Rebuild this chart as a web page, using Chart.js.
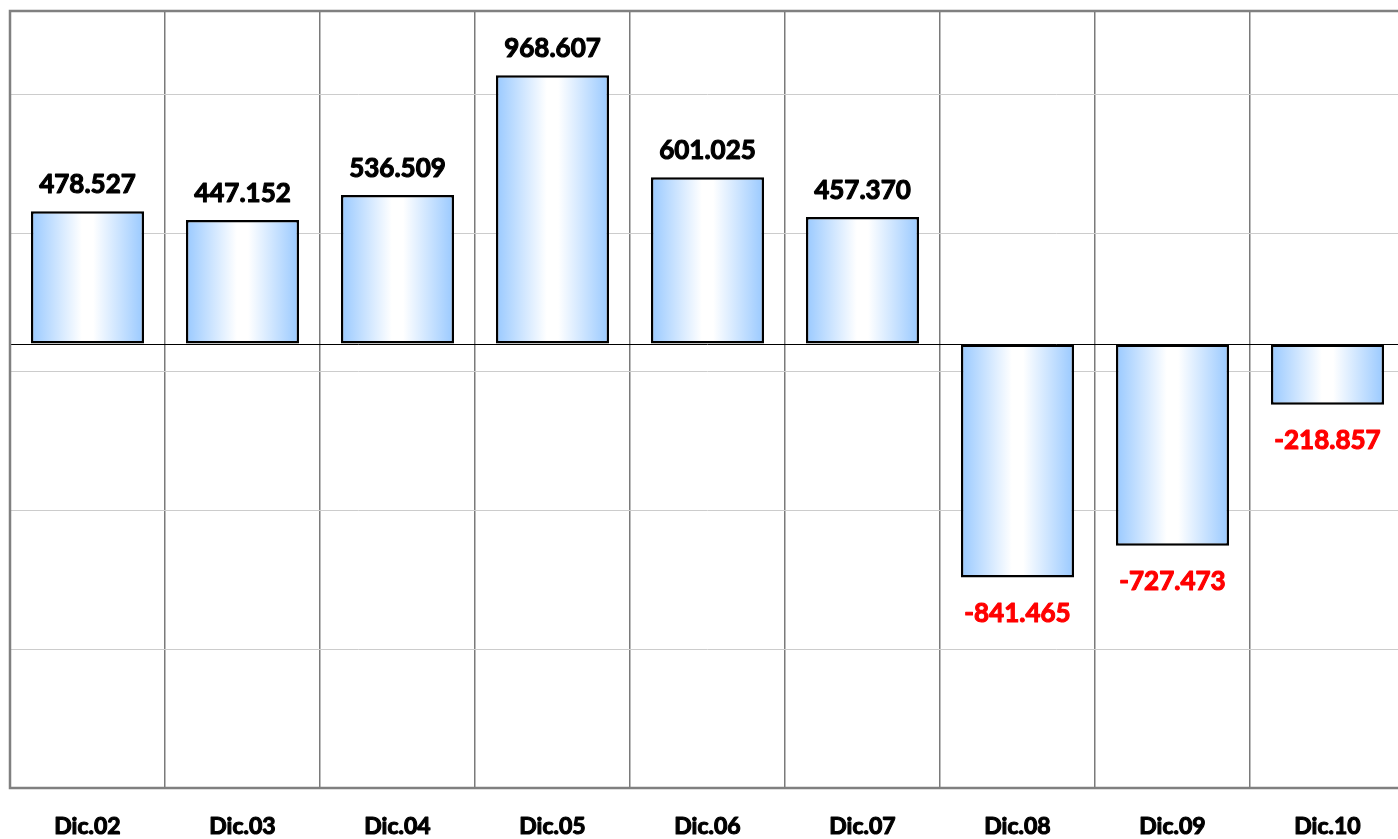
<!DOCTYPE html>
<html>
<head>
<meta charset="utf-8">
<script src="https://cdn.jsdelivr.net/npm/chart.js@4.4.1/dist/chart.umd.min.js"></script>
<style>
  html, body { margin: 0; padding: 0; background: #fff; overflow: hidden; }
  #wrap { width: 1410px; height: 839px; position: relative; }
</style>
</head>
<body>
<div id="wrap"><canvas id="c"></canvas></div>
<script>
const categories = ['Dic.02','Dic.03','Dic.04','Dic.05','Dic.06','Dic.07','Dic.08','Dic.09','Dic.10'];
const values = [478.527, 447.152, 536.509, 968.607, 601.025, 457.370, -841.465, -727.473, -218.857];
const valueLabels = ['478.527','447.152','536.509','968.607','601.025','457.370','-841.465','-727.473','-218.857'];
const yMin = -1600;
const yMax = 1200;
const yTicks = [-1600, -1100, -600, -100, 0, 400, 900, 1200];

const BAR_PCT = 0.73;
const FONT = 'Lato, "Open Sans", sans-serif';

function barGradient(ctx) {
  const chart = ctx.chart;
  const xs = chart.scales && chart.scales.x;
  if (!chart.chartArea || !xs) return '#a6d0ff';
  const cx = xs.getPixelForValue(ctx.dataIndex);
  const w = (xs.width / categories.length) * BAR_PCT;
  const g = chart.ctx.createLinearGradient(cx - w / 2, 0, cx + w / 2, 0);
  g.addColorStop(0, '#99c9ff');
  g.addColorStop(0.45, '#ffffff');
  g.addColorStop(0.55, '#ffffff');
  g.addColorStop(1, '#99c9ff');
  return g;
}

function heavyText(ctx, text, x, y, color) {
  ctx.fillStyle = color;
  ctx.strokeStyle = color;
  ctx.lineWidth = 1.1;
  ctx.lineJoin = 'round';
  ctx.fillText(text, x, y);
  ctx.strokeText(text, x, y);
}

const borderPlugin = {
  id: 'areaBorder',
  afterDatasetsDraw(chart) {
    const { ctx, chartArea: a } = chart;
    ctx.save();
    ctx.strokeStyle = '#808080';
    ctx.lineWidth = 2.5;
    ctx.strokeRect(a.left, a.top, a.right - a.left, a.bottom - a.top);
    ctx.restore();
  }
};

const labelPlugin = {
  id: 'valueLabels',
  afterDatasetsDraw(chart) {
    const { ctx } = chart;
    const meta = chart.getDatasetMeta(0);
    ctx.save();
    ctx.font = 'bold 26px ' + FONT;
    ctx.textAlign = 'center';
    ctx.textBaseline = 'alphabetic';
    meta.data.forEach((el, i) => {
      const v = values[i];
      if (v >= 0) {
        heavyText(ctx, valueLabels[i], el.x, el.y - 18, '#000000');
      } else {
        heavyText(ctx, valueLabels[i], el.x, el.y + 44, '#ff0000');
      }
    });
    // category labels
    const xs = chart.scales.x;
    ctx.font = 'bold 23px ' + FONT;
    ctx.textBaseline = 'middle';
    categories.forEach((c, i) => {
      heavyText(ctx, c, xs.getPixelForValue(i), chart.chartArea.bottom + 39, '#000000');
    });
    ctx.restore();
  }
};

new Chart(document.getElementById('c'), {
  type: 'bar',
  data: {
    labels: categories,
    datasets: [{
      data: values,
      backgroundColor: barGradient,
      borderColor: '#000000',
      borderWidth: 2.5,
      borderSkipped: false,
      barPercentage: BAR_PCT,
      categoryPercentage: 1.0
    }]
  },
  options: {
    responsive: true,
    maintainAspectRatio: false,
    animation: false,
    layout: { padding: { left: 10, top: 11, right: 5, bottom: 0 } },
    plugins: { legend: { display: false }, tooltip: { enabled: false } },
    scales: {
      x: {
        offset: true,
        grid: { offset: true, color: '#7a7a7a', lineWidth: 1.5, drawTicks: false },
        border: { display: false },
        ticks: {
          padding: 26,
          color: 'rgba(0,0,0,0)',
          font: { family: FONT, size: 23, weight: 'bold' }
        },
        afterFit(scale) { scale.height = 51; }
      },
      y: {
        min: yMin,
        max: yMax,
        afterBuildTicks(scale) { scale.ticks = yTicks.map(v => ({ value: v })); },
        grid: {
          drawTicks: false,
          color: (c) => c.tick && c.tick.value === 0 ? '#000000' : '#cccccc',
          lineWidth: 1
        },
        border: { display: false },
        ticks: { display: false },
        afterFit(scale) { scale.width = 0; }
      }
    }
  },
  plugins: [borderPlugin, labelPlugin]
});
</script>
</body>
</html>
